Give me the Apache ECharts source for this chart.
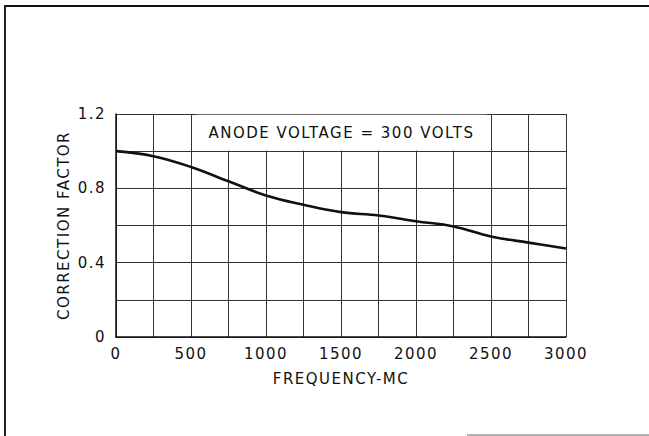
<!DOCTYPE html>
<html lang="en">
<head>
    <meta charset="UTF-8">
    <title>Correction Factor vs Frequency</title>
    <script type="text/javascript" src="https://cdn.jsdelivr.net/npm/echarts@6/dist/echarts.min.js"></script>
    <style>
        html, body { margin: 0; padding: 0; background: #fff; }
        #container { width: 649px; height: 436px; }
        /* the lettering on the original is widely spaced */
        #container text { letter-spacing: 1.5px; }
    </style>
</head>
<body>
<div id="container"></div>
<script type="text/javascript">
    // frequency in MC, read every 250
    var freq = [0, 250, 500, 750, 1000, 1250, 1500, 1750, 2000, 2250, 2500, 2750, 3000];
    var factor = [1.0, 0.973, 0.915, 0.838, 0.762, 0.712, 0.672, 0.654, 0.623, 0.595, 0.541, 0.508, 0.476];
    var xLabels = [0, 500, 1000, 1500, 2000, 2500, 3000];
    var yLabels = ['0', '0.4', '0.8', '1.2'];
    var note = 'ANODE VOLTAGE = 300 VOLTS';

    var points = [];
    for (var i = 0; i < freq.length; i++) {
        points.push([freq[i], factor[i]]);
    }

    var dom = document.getElementById("container");
    var myChart = echarts.init(dom, null, {renderer: 'svg'});
    var font = 'DejaVu Sans';

    var option = {
        animation: false,
        backgroundColor: '#fff',
        grid: {left: 116, right: 83, top: 114, bottom: 99},
        xAxis: {
            type: 'value',
            min: 0,
            max: 3000,
            interval: 250,
            name: 'FREQUENCY-MC',
            nameLocation: 'middle',
            nameGap: 34,
            nameTextStyle: {color: '#111', fontSize: 15, fontFamily: font},
            axisLine: {show: true, onZero: false, lineStyle: {color: '#111', width: 1.5}},
            axisTick: {show: false},
            axisLabel: {
                color: '#111', fontSize: 15, fontFamily: font, margin: 9,
                formatter: function (v) {
                    return xLabels.indexOf(v) >= 0 ? String(v) : '';
                }
            },
            splitLine: {show: true, lineStyle: {color: '#333', width: 1}}
        },
        yAxis: {
            type: 'value',
            min: 0,
            max: 1.2,
            interval: 0.2,
            name: 'CORRECTION FACTOR',
            nameLocation: 'middle',
            nameGap: 45,
            nameTextStyle: {color: '#111', fontSize: 15, fontFamily: font},
            axisLine: {show: true, lineStyle: {color: '#111', width: 1.5}},
            axisTick: {show: false},
            axisLabel: {
                color: '#111', fontSize: 15, fontFamily: font, margin: 10,
                formatter: function (v) {
                    var s = String(Math.round(v * 10) / 10);
                    return yLabels.indexOf(s) >= 0 ? s : '';
                }
            },
            splitLine: {show: true, lineStyle: {color: '#333', width: 1}}
        },
        series: [
            {
                type: 'line',
                data: points,
                smooth: 0.4,
                symbol: 'none',
                lineStyle: {color: '#111', width: 2.6},
                markArea: {
                    silent: true,
                    itemStyle: {color: '#fff', opacity: 1},
                    label: {
                        show: true,
                        position: 'inside',
                        color: '#111',
                        fontSize: 15,
                        fontFamily: font
                    },
                    data: [[
                        {name: note, xAxis: 533, yAxis: 1.004},
                        {xAxis: 2473, yAxis: 1.196}
                    ]]
                }
            }
        ],
        graphic: [
            {type: 'line', silent: true, shape: {x1: 5, y1: 6, x2: 649, y2: 6},
                style: {stroke: '#111', lineWidth: 2}},
            {type: 'line', silent: true, shape: {x1: 5, y1: 5, x2: 5, y2: 436},
                style: {stroke: '#222', lineWidth: 2}},
            {type: 'line', silent: true, shape: {x1: 467, y1: 435, x2: 649, y2: 435},
                style: {stroke: '#999', lineWidth: 1.5}}
        ]
    };
    myChart.setOption(option, true);
</script>
</body>
</html>
